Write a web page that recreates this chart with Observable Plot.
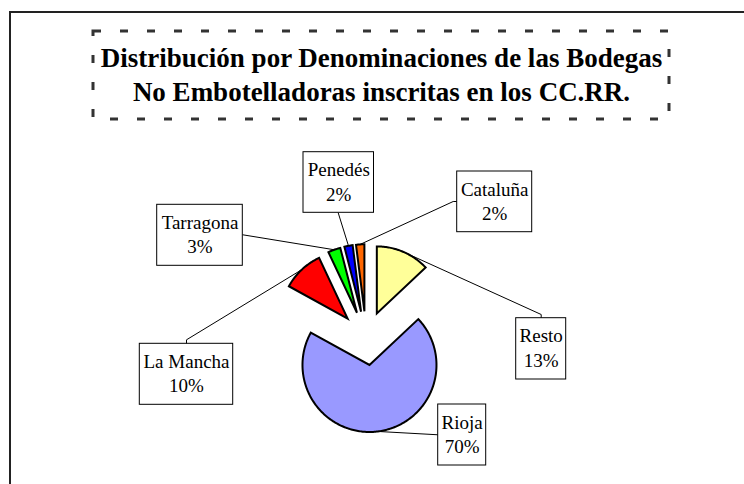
<!DOCTYPE html>
<html><head><meta charset="utf-8">
<script src="https://cdn.jsdelivr.net/npm/d3@7"></script>
<script src="https://cdn.jsdelivr.net/npm/@observablehq/plot@0.6"></script>
<style>
html,body{margin:0;padding:0;background:#fff;}
svg{display:block}
svg text, svg tspan { font-family: "Liberation Serif", "Times New Roman", Times, serif !important; }
</style>
</head><body><div id="chart"></div>
<script>
// ---- data ----
const categories = ["Resto", "Rioja", "La Mancha", "Tarragona", "Penedés", "Cataluña"];
const values = [13, 70, 10, 3, 2, 2];
const colors = ["#FFFF99", "#9999FF", "#FF0000", "#00FF00", "#0000FF", "#FF6600"];
const titleLines = ["Distribución por Denominaciones de las Bodegas", "No Embotelladoras inscritas en los CC.RR."];

// ---- layout ----
const W = 744, H = 484;
const pieCenter = [365.6, 337.7], radius = 67, explode = 27;
const labelBoxes = [
  [515.7, 565.7, 317.7, 379],
  [437.7, 485.7, 404, 465],
  [139.3, 232.7, 343.3, 404.3],
  [156.7, 242.3, 204.3, 265.3],
  [303, 373.5, 151.7, 212.3],
  [456.7, 531.7, 171, 231.7]
];
const leaderStarts = [
  [[540.7, 317.7], [540.7, 314]],
  [[437.7, 434.3]],
  [[186, 343.3], [186, 339.3]],
  [[242.3, 234.3]],
  [[337.7, 212.3]],
  [[456.7, 201], [452.7, 201]]
];

const pie = d3.pie().sort(null).value(d => d)(values);
const slices = pie.map((p, i) => {
  const mid = (p.startAngle + p.endAngle) / 2;
  const ox = pieCenter[0] + explode * Math.sin(mid);
  const oy = pieCenter[1] - explode * Math.cos(mid);
  const n = Math.max(2, Math.ceil((p.endAngle - p.startAngle) / (Math.PI / 180)) + 1);
  const pts = [{x: ox, y: oy}];
  for (let k = 0; k < n; k++) {
    const a = p.startAngle + (p.endAngle - p.startAngle) * k / (n - 1);
    pts.push({x: ox + radius * Math.sin(a), y: oy - radius * Math.cos(a)});
  }
  return {name: categories[i], value: values[i], color: colors[i], pts,
          arcMid: [ox + radius * Math.sin(mid), oy - radius * Math.cos(mid)]};
});

const leaderPts = [];
slices.forEach((s, i) => {
  leaderStarts[i].forEach(p => leaderPts.push({name: s.name, x: p[0], y: p[1]}));
  leaderPts.push({name: s.name, x: s.arcMid[0], y: s.arcMid[1]});
});

const boxes = slices.map((s, i) => ({name: s.name, x1: labelBoxes[i][0], x2: labelBoxes[i][1], y1: labelBoxes[i][2], y2: labelBoxes[i][3]}));
const labelText = [];
boxes.forEach((b, i) => {
  const cx = (b.x1 + b.x2) / 2;
  labelText.push({x: cx, y: b.y1 + 24, text: b.name});
  labelText.push({x: cx, y: b.y1 + 48.5, text: values[i] + "%"});
});

const titleData = titleLines.map((t, i) => ({x: 381, y: i === 0 ? 66.7 : 100, text: t}));

const serif = "Liberation Serif";

const chart = Plot.plot({
  width: W, height: H,
  margin: 0,
  x: {type: "identity", axis: null},
  y: {type: "identity", axis: null},
  style: {background: "white"},
  marks: [
    Plot.rect([{}], {x1: () => 10, x2: () => 800, y1: () => 12, y2: () => 540, fill: "white", stroke: "#222", strokeWidth: 2}),
    Plot.rect([{}], {x1: () => 93, x2: () => 669, y1: () => 31, y2: () => 119, fill: "none", stroke: "#333", strokeWidth: 3, strokeDasharray: "8,19"}),
    Plot.text(titleData, {x: "x", y: "y", text: "text", textAnchor: "middle", lineAnchor: "bottom", fontSize: 27, fontWeight: "bold", fontFamily: serif, fill: "black"}),
    Plot.line(leaderPts, {x: "x", y: "y", z: "name", stroke: "black", strokeWidth: 1, strokeLinejoin: "miter"}),
    ...slices.map(s => Plot.line(s.pts, {x: "x", y: "y", fill: s.color, stroke: "black", strokeWidth: 2, curve: "linear-closed", strokeLinejoin: "miter", strokeMiterlimit: 10})),
    Plot.rect(boxes, {x1: "x1", x2: "x2", y1: "y1", y2: "y2", fill: "white", stroke: "black", strokeWidth: 1}),
    Plot.text(labelText, {x: "x", y: "y", text: "text", textAnchor: "middle", lineAnchor: "bottom", fontSize: 19, fontFamily: serif, fill: "black"})
  ]
});
document.getElementById("chart").appendChild(chart);
</script>
</body></html>
